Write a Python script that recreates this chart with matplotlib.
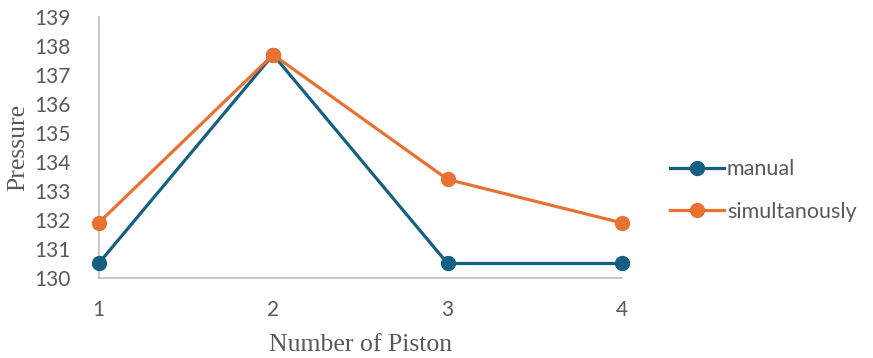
import matplotlib.pyplot as plt

pistons = [1, 2, 3, 4]
manual = [130.5, 137.7, 130.5, 130.5]
simultaneously = [131.9, 137.7, 133.4, 131.9]
yticks = list(range(130, 140))

blue = '#156082'
orange = '#E97132'
grey = '#595959'

plt.rcParams['font.family'] = ['Lato', 'DejaVu Sans']

fig = plt.figure(figsize=(8.73, 3.58), dpi=100)
ax = fig.add_axes([0.113, 0.2235, 0.5995, 0.729])

ax.plot(pistons, manual, color=blue, lw=2.3, marker='o', ms=10, clip_on=False, label='manual', zorder=3)
ax.plot(pistons, simultaneously, color=orange, lw=2.3, marker='o', ms=10, clip_on=False, label='simultanously', zorder=3)

ax.set_xlim(1, 4)
ax.set_ylim(130, 139)
ax.set_xticks(pistons)
ax.set_yticks(yticks)
ax.tick_params(length=0, labelsize=15, labelcolor=grey)
ax.tick_params(axis='x', pad=16)
ax.tick_params(axis='y', pad=20)
for s in ['top', 'right']:
    ax.spines[s].set_visible(False)
for s in ['left', 'bottom']:
    ax.spines[s].set_color('#BFBFBF')
    ax.spines[s].set_linewidth(1.2)

ax.set_xlabel('Number of Piston', family='Liberation Serif', fontsize=18.5, color=grey, labelpad=10)
ax.set_ylabel('Pressure', family='Liberation Serif', fontsize=18.5, color=grey, labelpad=4)

fig.legend(loc='center left', bbox_to_anchor=(0.745, 0.468), frameon=False, fontsize=15.5,
           labelcolor=grey, handlelength=2.5, labelspacing=1.05, handletextpad=0.15)

fig.savefig('out.png')
